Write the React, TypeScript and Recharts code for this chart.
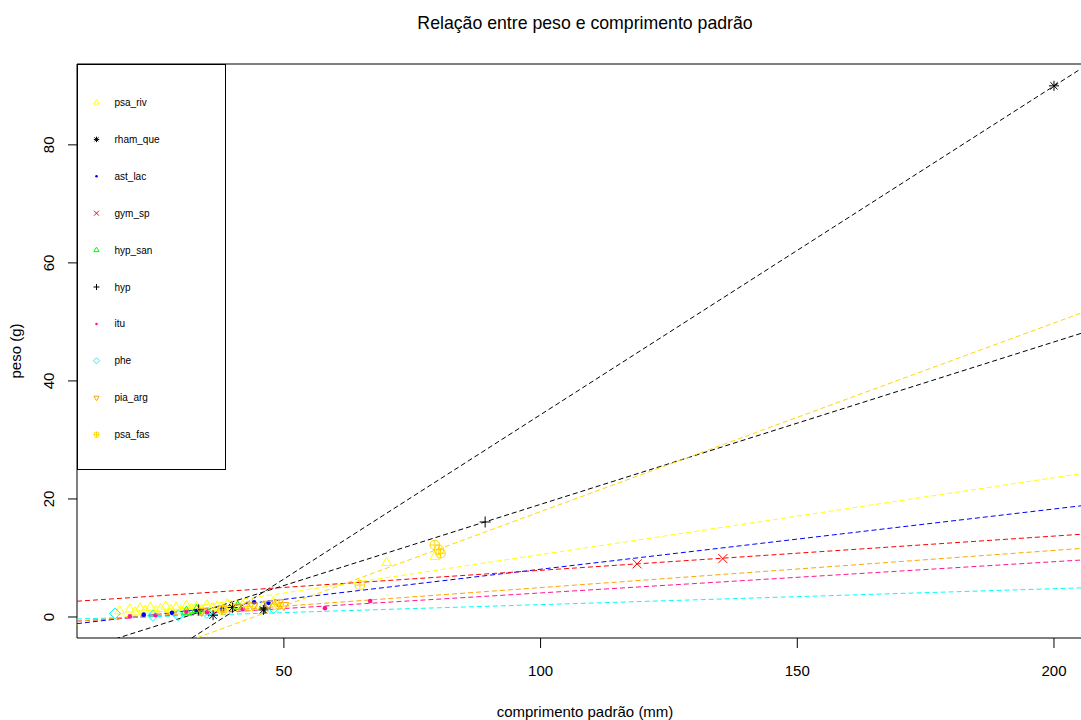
import React from "react";
import { ComposedChart, Line, ReferenceArea, Scatter, XAxis, YAxis } from "recharts";

const X_MIN = 9.7;
const X_MAX = 207.6;
const Y_MIN = -3.56;
const Y_MAX = 93.7;

const xTicks = [50, 100, 150, 200];
const yTicks = [0, 20, 40, 60, 80];

// observed points per species: [comprimento, peso]
const psaRiv = [
  [18, 1.0], [20, 1.3], [21, 0.8], [22, 1.5], [23, 1.1], [24, 1.6], [25, 1.0],
  [26, 1.4], [27, 1.8], [28, 1.2], [29, 1.6], [30, 1.0], [31, 1.9], [32, 1.4],
  [33, 1.7], [34, 1.2], [35, 2.0], [36, 1.5], [37, 1.8], [38, 1.3], [39, 2.2],
  [40, 1.7], [42, 2.0], [44, 2.3], [46, 1.9], [48, 2.6], [70, 9.2], [79.4, 10.2],
];
const rhamQue = [[36.2, 0.3], [40, 1.6], [46, 1.2], [200, 90]];
const astLac = [[22.7, 0.4], [28.2, 0.7], [33, 1.0], [38, 1.3], [44.2, 2.5], [47, 2.4]];
const gymSp = [[118.8, 9.0], [135.5, 9.9]];
const hypSan = [[31, 0.9], [33, 1.2], [41, 1.8]];
const hyp = [[33.4, 1.2], [46.3, 1.5], [89.2, 16.1]];
const itu = [[20, 0.1], [25, 0.3], [31, 0.9], [35, 0.8], [42, 1.3], [58, 1.5], [66.8, 2.7]];
const phe = [[17.1, 0.6], [24.5, 0.2], [29.4, 0.3], [35, 0.7], [48, 1.5]];
const piaArg = [[34, 1.0], [38, 1.4], [41, 1.7], [44, 1.9], [47, 2.2], [49, 2.5], [50, 2.0]];
const psaFas = [[38, 1.2], [43, 1.8], [49, 2.2], [64.8, 5.4], [79.4, 12.2], [80.2, 11.4], [80.5, 10.8]];

// fitted regression lines: peso at left and right edge of the plot
const fitPsaRiv = [-1.2, 24.6];
const fitRhamQue = [-16.0, 94.2];
const fitAstLac = [-1.13, 19.08];
const fitGymSp = [2.67, 14.15];
const fitHyp = [-5.76, 48.7];
const fitItu = [-0.7, 9.77];
const fitPhe = [-0.34, 5.0];
const fitPiaArg = [-0.71, 11.76];
const fitPsaFas = [-11.0, 52.24];

type Kind = "tri" | "star" | "dot" | "x" | "plus" | "diamond" | "invtri" | "circplus";

const species: {
  label: string;
  color: string;
  kind: Kind;
  points: number[][];
  fit: number[] | null;
}[] = [
  { label: "psa_riv", color: "#FFFF00", kind: "tri", points: psaRiv, fit: fitPsaRiv },
  { label: "rham_que", color: "#000000", kind: "star", points: rhamQue, fit: fitRhamQue },
  { label: "ast_lac", color: "#0000FF", kind: "dot", points: astLac, fit: fitAstLac },
  { label: "gym_sp", color: "#FF0000", kind: "x", points: gymSp, fit: fitGymSp },
  { label: "hyp_san", color: "#00FF00", kind: "tri", points: hypSan, fit: null },
  { label: "hyp", color: "#000000", kind: "plus", points: hyp, fit: fitHyp },
  { label: "itu", color: "#FF1493", kind: "dot", points: itu, fit: fitItu },
  { label: "phe", color: "#00FFFF", kind: "diamond", points: phe, fit: fitPhe },
  { label: "pia_arg", color: "#FFA500", kind: "invtri", points: piaArg, fit: fitPiaArg },
  { label: "psa_fas", color: "#FFD700", kind: "circplus", points: psaFas, fit: fitPsaFas },
];

const FONT = "'Liberation Sans', Arial, sans-serif";

function Marker({ cx, cy, kind, color, k = 1 }: { cx: number; cy: number; kind: Kind; color: string; k?: number }) {
  if (cx == null || cy == null) return null;
  const sw = 1;
  switch (kind) {
    case "tri": {
      const s = 5.5 * k;
      return (
        <polygon
          points={`${cx},${cy - s} ${cx - s * 0.87},${cy + s * 0.5} ${cx + s * 0.87},${cy + s * 0.5}`}
          fill="none"
          stroke={color}
          strokeWidth={sw}
        />
      );
    }
    case "invtri": {
      const s = 5.5 * k;
      return (
        <polygon
          points={`${cx},${cy + s} ${cx - s * 0.87},${cy - s * 0.5} ${cx + s * 0.87},${cy - s * 0.5}`}
          fill="none"
          stroke={color}
          strokeWidth={sw}
        />
      );
    }
    case "dot":
      return <circle cx={cx} cy={cy} r={2.3 * k} fill={color} />;
    case "x": {
      const s = 4.5 * k;
      return (
        <path d={`M${cx - s},${cy - s}L${cx + s},${cy + s}M${cx - s},${cy + s}L${cx + s},${cy - s}`} stroke={color} strokeWidth={sw} />
      );
    }
    case "plus": {
      const s = 5.5 * k;
      return <path d={`M${cx - s},${cy}L${cx + s},${cy}M${cx},${cy - s}L${cx},${cy + s}`} stroke={color} strokeWidth={sw} />;
    }
    case "star": {
      const s = 5 * k;
      const d = s * 0.72;
      return (
        <path
          d={`M${cx - s},${cy}L${cx + s},${cy}M${cx},${cy - s}L${cx},${cy + s}M${cx - d},${cy - d}L${cx + d},${cy + d}M${cx - d},${cy + d}L${cx + d},${cy - d}`}
          stroke={color}
          strokeWidth={sw}
        />
      );
    }
    case "diamond": {
      const s = 5.5 * k;
      return (
        <polygon
          points={`${cx},${cy - s} ${cx + s},${cy} ${cx},${cy + s} ${cx - s},${cy}`}
          fill="none"
          stroke={color}
          strokeWidth={sw}
        />
      );
    }
    case "circplus": {
      const s = 4.8 * k;
      return (
        <g stroke={color} strokeWidth={sw} fill="none">
          <circle cx={cx} cy={cy} r={s} />
          <path d={`M${cx - s},${cy}L${cx + s},${cy}M${cx},${cy - s}L${cx},${cy + s}`} />
        </g>
      );
    }
  }
  return null;
}

const YTick = (props: any) => {
  const { y, payload } = props;
  return (
    <text
      x={49}
      y={y}
      transform={`rotate(-90, 49, ${y})`}
      textAnchor="middle"
      dominantBaseline="central"
      fontSize={15}
      fontFamily={FONT}
      fill="#000"
    >
      {payload.value}
    </text>
  );
};

const XTick = (props: any) => {
  const { x, payload } = props;
  return (
    <text x={x} y={670} textAnchor="middle" dominantBaseline="central" fontSize={15} fontFamily={FONT} fill="#000">
      {payload.value}
    </text>
  );
};

function LegendBox() {
  return (
    <svg
      width={150}
      height={407}
      style={{ position: "absolute", left: 76.5, top: 63.5, overflow: "visible" }}
    >
      <rect x={0.5} y={0.5} width={148} height={405} fill="#fff" stroke="#000" strokeWidth={1} />
      {species.map((s, i) => {
        const cy = 38.5 + i * 36.9;
        return (
          <g key={s.label}>
            <Marker cx={19.5} cy={cy} kind={s.kind} color={s.color} k={0.55} />
            <text x={37.5} y={cy + 3.5} fontSize={10} fontFamily={FONT} fill="#000">
              {s.label}
            </text>
          </g>
        );
      })}
    </svg>
  );
}

export default function App() {
  return (
    <div
      style={{
        position: "absolute",
        left: 0,
        top: 0,
        width: 1081,
        height: 720,
        overflow: "hidden",
        background: "#fff",
        fontFamily: FONT,
      }}
    >
      <ComposedChart width={1100} height={720} margin={{ top: 64, right: 7, bottom: 0, left: 0 }}>
        <XAxis
          type="number"
          dataKey="x"
          domain={[X_MIN, X_MAX]}
          allowDataOverflow
          ticks={xTicks}
          height={82}
          tick={<XTick />}
          tickSize={10}
          axisLine={false}
          tickLine={{ stroke: "#000" }}
        />
        <YAxis
          type="number"
          dataKey="y"
          domain={[Y_MIN, Y_MAX]}
          allowDataOverflow
          ticks={yTicks}
          width={77}
          tick={<YTick />}
          tickSize={9}
          axisLine={false}
          tickLine={{ stroke: "#000" }}
        />
        {species.map((s) => (
          <Scatter
            key={"p-" + s.label}
            data={s.points.map(([x, y]) => ({ x, y }))}
            isAnimationActive={false}
            shape={(p: any) => <Marker cx={p.cx} cy={p.cy} kind={s.kind} color={s.color} />}
          />
        ))}
        {species
          .filter((s) => s.fit)
          .map((s) => (
            <Line
              key={"l-" + s.label}
              data={[
                { x: X_MIN, y: s.fit![0] },
                { x: X_MAX, y: s.fit![1] },
              ]}
              dataKey="y"
              stroke={s.color}
              strokeWidth={1}
              strokeDasharray="5 3"
              dot={false}
              activeDot={false}
              isAnimationActive={false}
            />
          ))}
        <ReferenceArea x1={X_MIN} x2={X_MAX} y1={Y_MIN} y2={Y_MAX} fill="none" stroke="#000" strokeWidth={1} />
      </ComposedChart>
      <LegendBox />
      <div
        style={{
          position: "absolute",
          left: 385,
          width: 400,
          top: 12,
          textAlign: "center",
          fontSize: 17.7,
          lineHeight: "22px",
        }}
      >
        Relação entre peso e comprimento padrão
      </div>
      <div
        style={{
          position: "absolute",
          left: 385,
          width: 400,
          top: 702,
          textAlign: "center",
          fontSize: 15,
          lineHeight: "20px",
        }}
      >
        comprimento padrão (mm)
      </div>
      <div
        style={{
          position: "absolute",
          left: 16 - 60,
          top: 351 - 10,
          width: 120,
          textAlign: "center",
          fontSize: 15,
          lineHeight: "20px",
          transform: "rotate(-90deg)",
        }}
      >
        peso (g)
      </div>
    </div>
  );
}
